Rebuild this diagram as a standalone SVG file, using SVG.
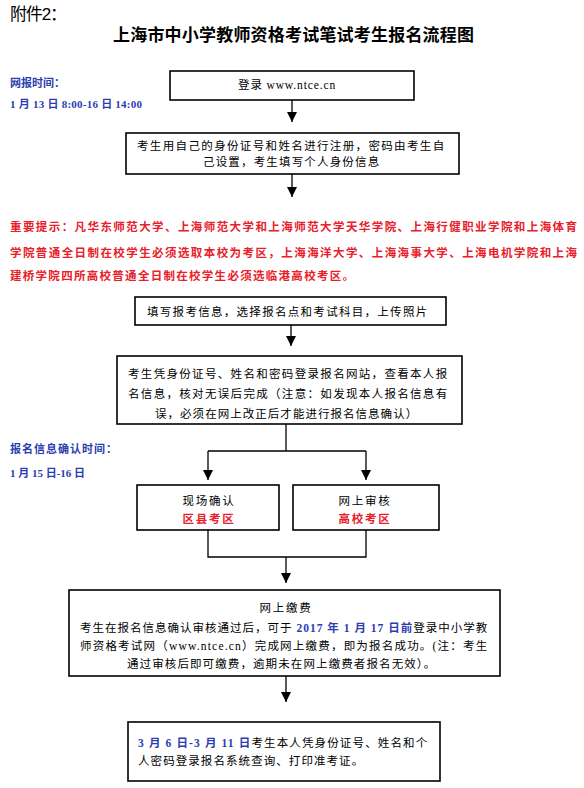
<svg xmlns="http://www.w3.org/2000/svg" width="584" height="788" viewBox="0 0 584 788">
<defs>
<marker id="ah" markerUnits="userSpaceOnUse" markerWidth="10" markerHeight="11" refX="10" refY="5" orient="auto">
<path d="M0,0 L10,5 L0,10 z" fill="#000"/>
</marker>
<style>
.box{fill:#fff;stroke:#000;stroke-width:1.6}
.ln{fill:none;stroke:#000;stroke-width:1.3}
.ar{fill:none;stroke:#000;stroke-width:1.3;marker-end:url(#ah)}
.t{font-family:"Liberation Serif","Noto Sans CJK SC",serif;font-size:11.5px;fill:#000;letter-spacing:1.8px}
.c{text-anchor:middle}
.red{font-family:"Liberation Serif","Noto Sans CJK SC",serif;font-size:11.5px;font-weight:bold;fill:#e8202a}
.blue{font-family:"Liberation Serif","Noto Sans CJK SC",serif;font-size:11px;font-weight:bold;fill:#2b3db0}
.b{fill:#2b3db0;font-weight:bold}
.r{fill:#e8202a;font-weight:bold}
</style>
</defs>
<rect width="584" height="788" fill="#fff"/>
<text x="10" y="20" font-family="Liberation Sans,Noto Sans CJK SC,sans-serif" font-size="17" fill="#000" textLength="57" lengthAdjust="spacing">附件2：</text>
<text x="113" y="41" font-family="Liberation Sans,Noto Sans CJK SC,sans-serif" font-size="17" font-weight="bold" fill="#000" textLength="361" lengthAdjust="spacing">上海市中小学教师资格考试笔试考生报名流程图</text>

<text class="blue" x="10" y="87" textLength="55" lengthAdjust="spacing">网报时间：</text>
<text class="blue" x="10" y="108" textLength="132" lengthAdjust="spacing">1 月 13 日 8:00-16 日 14:00</text>

<g id="connectors">
<line class="ar" x1="292" y1="100" x2="292" y2="122"/>
<line class="ar" x1="292" y1="174" x2="292" y2="197"/>
<line class="ar" x1="291" y1="325" x2="291" y2="346"/>
<polyline class="ln" points="286,424 286,451"/>
<polyline class="ln" points="208,451 366,451"/>
<line class="ar" x1="208" y1="451" x2="208" y2="480"/>
<line class="ar" x1="366" y1="451" x2="366" y2="480"/>
<polyline class="ln" points="208,530 208,557 366,557 366,530"/>
<line class="ar" x1="286" y1="557" x2="286" y2="583"/>
<line class="ar" x1="286" y1="676" x2="286" y2="702"/>
</g>

<g id="n1">
<rect class="box" x="170" y="71" width="244" height="29"/>
<text class="t" x="238" y="89" textLength="99" lengthAdjust="spacing">登录 www.ntce.cn</text>
</g>

<g id="n2">
<rect class="box" x="126" y="133" width="333" height="41"/>
<text class="t" x="137" y="150" textLength="309" lengthAdjust="spacing">考生用自己的身份证号和姓名进行注册，密码由考生自</text>
<text class="t" x="203" y="166" textLength="178" lengthAdjust="spacing">己设置，考生填写个人身份信息</text>
</g>

<g id="notice">
<text class="red" x="10" y="231" textLength="567" lengthAdjust="spacing">重要提示：凡华东师范大学、上海师范大学和上海师范大学天华学院、上海行健职业学院和上海体育</text>
<text class="red" x="10" y="257" textLength="567" lengthAdjust="spacing">学院普通全日制在校学生必须选取本校为考区，上海海洋大学、上海海事大学、上海电机学院和上海</text>
<text class="red" x="10" y="280" textLength="344" lengthAdjust="spacing">建桥学院四所高校普通全日制在校学生必须选临港高校考区。</text>
</g>

<g id="n3">
<rect class="box" x="135" y="297" width="311" height="28"/>
<text class="t" x="147" y="316" textLength="282" lengthAdjust="spacing">填写报考信息，选择报名点和考试科目，上传照片</text>
</g>

<g id="n4">
<rect class="box" x="117" y="356" width="345" height="68"/>
<text class="t" x="128" y="378" textLength="321" lengthAdjust="spacing">考生凭身份证号、姓名和密码登录报名网站，查看本人报</text>
<text class="t" x="128" y="398" textLength="321" lengthAdjust="spacing">名信息，核对无误后完成（注意：如发现本人报名信息有</text>
<text class="t" x="155" y="418" textLength="264" lengthAdjust="spacing">误，必须在网上改正后才能进行报名信息确认）</text>
</g>

<text class="blue" x="10" y="453" textLength="107" lengthAdjust="spacing">报名信息确认时间：</text>
<text class="blue" x="10" y="477" textLength="75" lengthAdjust="spacing">1 月 15 日-16 日</text>

<g id="n5a">
<rect class="box" x="137" y="485" width="142" height="45"/>
<text class="t c" x="209" y="505">现场确认</text>
<text class="t c r" x="209" y="523">区县考区</text>
</g>
<g id="n5b">
<rect class="box" x="293" y="485" width="146" height="45"/>
<text class="t c" x="365" y="505">网上审核</text>
<text class="t c r" x="365" y="523">高校考区</text>
</g>

<g id="n6">
<rect class="box" x="69" y="590" width="431" height="86"/>
<text class="t c" x="286" y="612">网上缴费</text>
<text class="t" x="80" y="632" textLength="409" lengthAdjust="spacing">考生在报名信息确认审核通过后，可于 <tspan class="b">2017 年 1 月 17 日前</tspan>登录中小学教</text>
<text class="t" x="80" y="650" textLength="409" lengthAdjust="spacing">师资格考试网（www.ntce.cn）完成网上缴费，即为报名成功。(注：考生</text>
<text class="t" x="127" y="668" textLength="310" lengthAdjust="spacing">通过审核后即可缴费，逾期未在网上缴费者报名无效）。</text>
</g>

<g id="n7">
<rect class="box" x="128" y="722" width="312" height="59"/>
<text class="t" x="138" y="747" textLength="291" lengthAdjust="spacing"><tspan class="b">3 月 6 日-3 月 11 日</tspan>考生本人凭身份证号、姓名和个</text>
<text class="t" x="138" y="765" textLength="227" lengthAdjust="spacing">人密码登录报名系统查询、打印准考证。</text>
</g>
</svg>
